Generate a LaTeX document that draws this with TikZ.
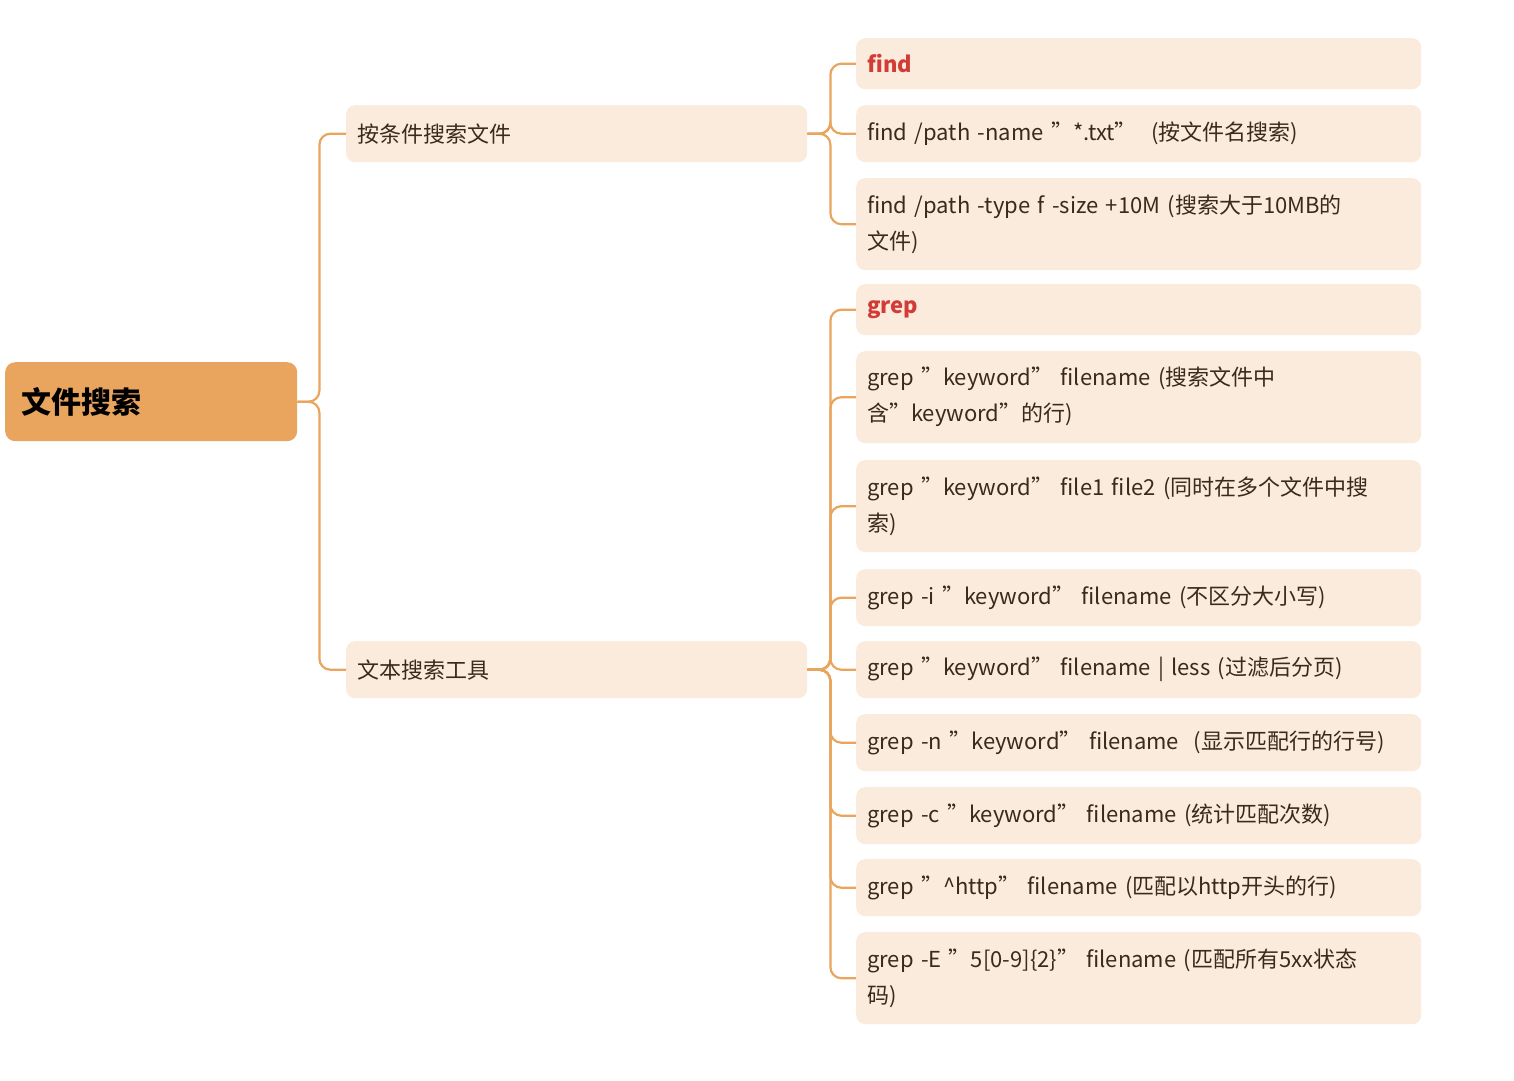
\documentclass[tikz,border=0pt]{standalone}
\usepackage{fontspec}
\setmainfont{Noto Sans CJK SC}
\definecolor{org}{HTML}{E9A55E}
\definecolor{pale}{HTML}{FBEBDC}
\definecolor{redt}{HTML}{D23B36}
\definecolor{txt}{HTML}{3A2A1E}
\begin{document}
\begin{tikzpicture}[x=1pt,y=-1pt,
  box/.style={fill=pale,rounded corners=9pt,anchor=north west,align=left,text=txt,font=\fontsize{22}{36}\selectfont,inner xsep=11pt,inner ysep=0pt},
  conn/.style={draw=org,line width=2.2pt,rounded corners=11pt}]
\path[use as bounding box] (0,0) rectangle (1514,1080);
\node[fill=org,rounded corners=10pt,minimum width=292,minimum height=79,anchor=north west,font=\fontsize{30}{36}\selectfont\bfseries,text=black,align=left,text width=260pt,inner xsep=16pt] (root) at (5,362) {文件搜索};
\newcommand\mybox[5]{\node[box,minimum width=#2,minimum height=#4,text width=#2-22,anchor=north west] (#5) at (#1,#3) {};}
\node[box,minimum height=57,text width=439pt] (a) at (346,105) {按条件搜索文件};
\node[box,minimum height=57,text width=439pt] (b) at (346,641) {文本搜索工具};
\tikzset{l2/.style={box,text width=543pt}}
\node[l2,minimum height=51,font=\fontsize{22}{36}\selectfont\bfseries,text=redt] (f0) at (856,38) {find};
\node[l2,minimum height=57] (f1) at (856,105) {find /path -name "*.txt"\ \ (按文件名搜索)};
\node[l2,minimum height=92] (f2) at (856,178) {find /path -type f -size +10M (搜索大于10MB的\\文件)};
\node[l2,minimum height=51,font=\fontsize{22}{36}\selectfont\bfseries,text=redt] (g0) at (856,284) {grep};
\node[l2,minimum height=92] (g1) at (856,351) {grep "keyword" filename (搜索文件中\\含"keyword"的行)};
\node[l2,minimum height=92] (g2) at (856,460) {grep "keyword" file1 file2 (同时在多个文件中搜\\索)};
\node[l2,minimum height=57] (g3) at (856,569) {grep -i "keyword" filename (不区分大小写)};
\node[l2,minimum height=57] (g4) at (856,641) {grep "keyword" filename | less (过滤后分页)};
\node[l2,minimum height=57] (g5) at (856,714) {grep -n "keyword" filename\ \ (显示匹配行的行号)};
\node[l2,minimum height=57] (g6) at (856,787) {grep -c "keyword" filename (统计匹配次数)};
\node[l2,minimum height=57] (g7) at (856,859) {grep "\^{}http" filename (匹配以http开头的行)};
\node[l2,minimum height=92] (g8) at (856,932) {grep -E "5[0-9]\{2\}" filename (匹配所有5xx状态\\码)};
\foreach \c in {a,b} \draw[conn] (root.east) -- ++(22,0) |- (\c.west);
\foreach \c in {f0,f1,f2} \draw[conn] (a.east) -- ++(23,0) |- (\c.west);
\foreach \c in {g0,g1,g2,g3,g4,g5,g6,g7,g8} \draw[conn] (b.east) -- ++(23,0) |- (\c.west);
\end{tikzpicture}
\end{document}
